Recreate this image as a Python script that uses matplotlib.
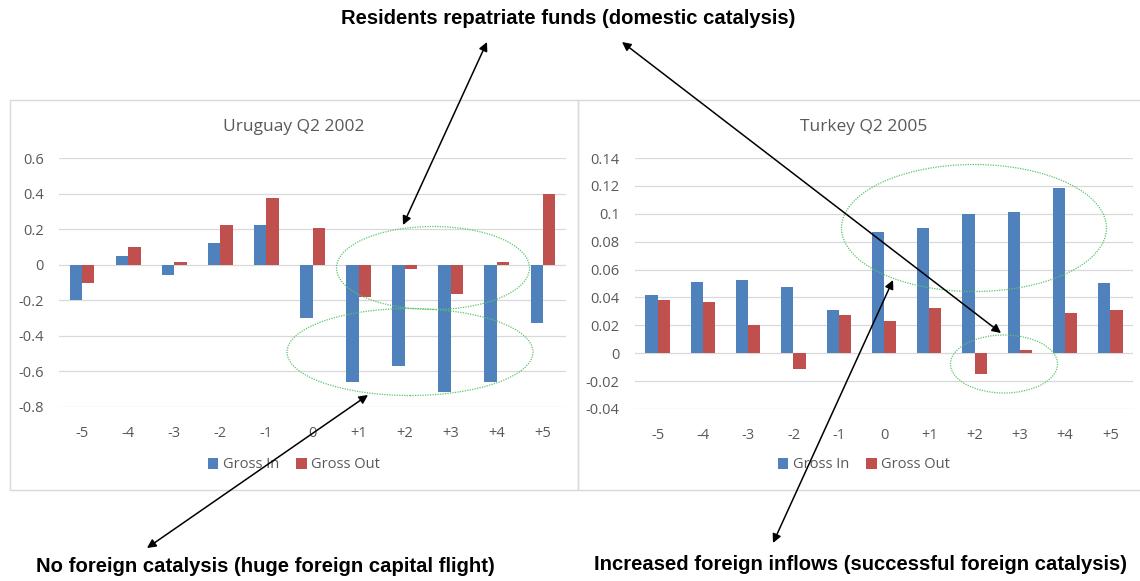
import numpy as np
import matplotlib.pyplot as plt
from matplotlib.patches import Rectangle, Ellipse, FancyArrowPatch

categories = ["-5", "-4", "-3", "-2", "-1", "0", "+1", "+2", "+3", "+4", "+5"]

uru_in = [-0.20, 0.047, -0.057, 0.123, 0.222, -0.297, -0.66, -0.57, -0.715, -0.66, -0.328]
uru_out = [-0.10, 0.102, 0.013, 0.222, 0.375, 0.207, -0.184, -0.025, -0.163, 0.013, 0.40]

tur_in = [0.0417, 0.0514, 0.0526, 0.0474, 0.0312, 0.0867, 0.0898, 0.0995, 0.1010, 0.1186, 0.0505]
tur_out = [0.0379, 0.0364, 0.0200, -0.0114, 0.0276, 0.0233, 0.0326, -0.0152, 0.0024, 0.0286, 0.0307]

W, H = 1140, 581
BLUE = "#4F81BD"
RED = "#C0504D"
GRAY = "#595959"
FONT = ["Open Sans", "DejaVu Sans"]

fig = plt.figure(figsize=(W / 100, H / 100), dpi=100)


def fx(x):
    return x / W


def fy(y):
    return 1 - y / H


def px_axes(x0, y0, x1, y1):
    return fig.add_axes([fx(x0), fy(y1), fx(x1) - fx(x0), fy(y0) - fy(y1)])


# panel frames
fig.add_artist(Rectangle((fx(10), fy(490)), fx(568), (490 - 100) / H, transform=fig.transFigure,
                         fill=False, edgecolor="#D9D9D9", lw=1))
fig.add_artist(Rectangle((fx(578), fy(490)), fx(580), (490 - 100) / H, transform=fig.transFigure,
                         fill=False, edgecolor="#D9D9D9", lw=1))


def draw_panel(box, yin, yout, ylim, yticks, ylabels, title, cx):
    ax = px_axes(*box)
    x = np.arange(len(categories))
    w = 0.27
    ax.bar(x - w / 2, yin, w, color=BLUE, label="Gross In", zorder=3)
    ax.bar(x + w / 2, yout, w, color=RED, label="Gross Out", zorder=3)
    ax.set_xlim(-0.5, len(categories) - 0.5)
    ax.set_ylim(*ylim)
    ax.set_yticks(yticks)
    ax.set_yticklabels(ylabels, fontsize=10.5, color=GRAY, family=FONT)
    ax.set_xticks(x)
    ax.set_xticklabels(categories, fontsize=10.5, color=GRAY, family=FONT)
    ax.tick_params(length=0)
    ax.tick_params(axis="y", pad=11)
    ax.tick_params(axis="x", pad=14)
    ax.grid(axis="y", color="#D9D9D9", lw=0.9, zorder=0)
    for s in ax.spines.values():
        s.set_visible(False)
    ax.patch.set_alpha(0)
    fig.text(fx(cx), fy(127), title, ha="center", va="center", fontsize=12.5, color=GRAY, family=FONT)
    fig.legend(*ax.get_legend_handles_labels(), loc="center", bbox_to_anchor=(fx(cx), fy(465)),
               ncol=2, frameon=False, handlelength=0.7, handleheight=0.7, handletextpad=0.3,
               columnspacing=1.2, prop={"family": FONT, "size": 10.5}, labelcolor=GRAY)
    return ax


draw_panel((59, 158, 566, 407), uru_in, uru_out, (-0.8, 0.6),
           [-0.8, -0.6, -0.4, -0.2, 0, 0.2, 0.4, 0.6],
           ["-0.8", "-0.6", "-0.4", "-0.2", "0", "0.2", "0.4", "0.6"],
           "Uruguay Q2 2002", 294)
draw_panel((635, 158, 1133, 409), tur_in, tur_out, (-0.04, 0.14),
           [-0.04, -0.02, 0, 0.02, 0.04, 0.06, 0.08, 0.1, 0.12, 0.14],
           ["-0.04", "-0.02", "0", "0.02", "0.04", "0.06", "0.08", "0.1", "0.12", "0.14"],
           "Turkey Q2 2005", 864)

# dotted green ellipses
for cx, cy, ew, eh in [(433, 268, 193, 83), (410, 352, 246, 87), (974, 228, 265, 127), (1004, 364, 107, 58)]:
    fig.add_artist(Ellipse((fx(cx), fy(cy)), ew / W, eh / H, transform=fig.transFigure,
                           fill=False, edgecolor="#5CC46A", lw=0.9, ls=(0, (1, 1)), zorder=5))

# double-headed arrows
for (x0, y0), (x1, y1) in [((487, 42), (403, 225)), ((622, 42), (1001, 333)),
                           ((368, 395), (147, 548)), ((893, 280), (773, 543))]:
    fig.add_artist(FancyArrowPatch((fx(x0), fy(y0)), (fx(x1), fy(y1)), transform=fig.transFigure,
                                   arrowstyle="<|-|>", mutation_scale=13, color="black", lw=1.1,
                                   shrinkA=0, shrinkB=0, zorder=6))

BOLD = ["Liberation Sans", "DejaVu Sans"]
fig.text(fx(568), fy(18), "Residents repatriate funds (domestic catalysis)", ha="center", va="center",
         fontsize=14.6, fontweight="bold", family=BOLD)
fig.text(fx(265), fy(567), "No foreign catalysis (huge foreign capital flight)", ha="center", va="center",
         fontsize=14.6, fontweight="bold", family=BOLD)
fig.text(fx(861), fy(565), "Increased foreign inflows (successful foreign catalysis)", ha="center", va="center",
         fontsize=14.6, fontweight="bold", family=BOLD)

fig.savefig("out.png", dpi=100)
